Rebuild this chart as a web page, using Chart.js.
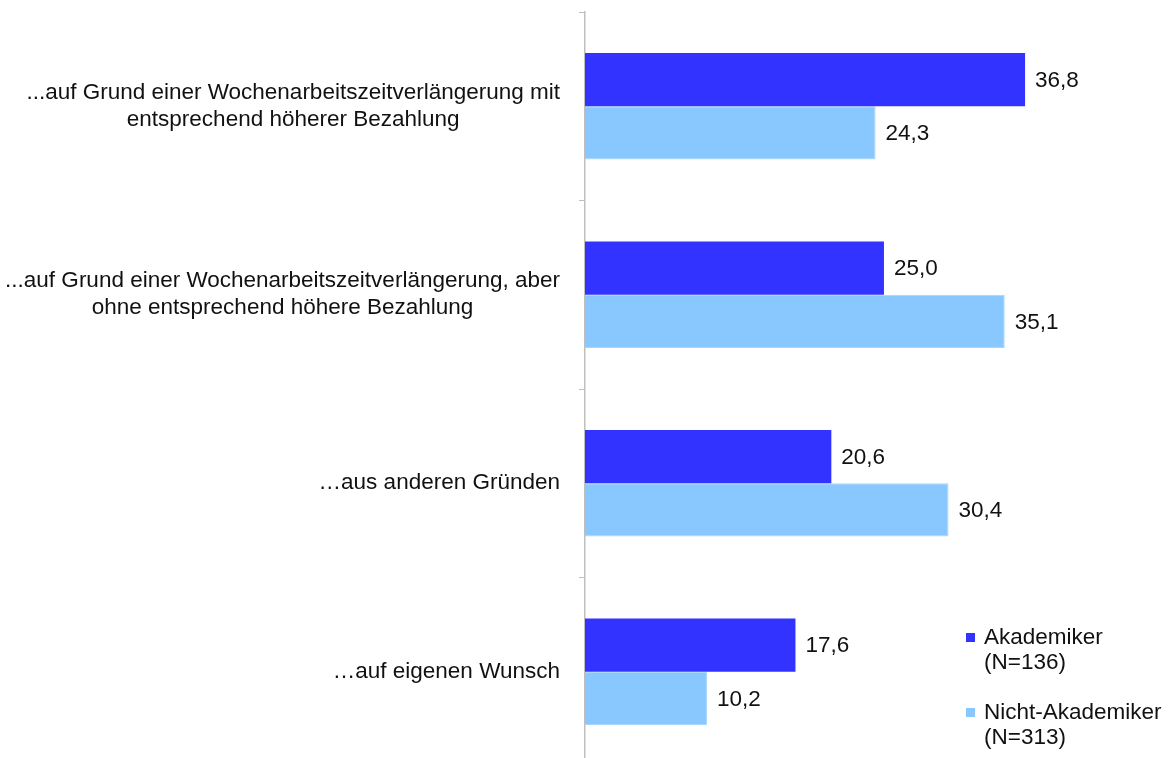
<!DOCTYPE html>
<html lang="de">
<head>
    <meta charset="UTF-8">
    <title>Wochenarbeitszeitverlängerung</title>
    <script src="https://cdn.jsdelivr.net/npm/chart.js"></script>
    <style>
        body { margin: 0; background: #fff; overflow: hidden; }
        #wrap { position: relative; width: 1169px; height: 758px; overflow: hidden; }
        .legend {
            position: absolute; left: 966px;
            font-family: "Liberation Sans", Arial, sans-serif;
            font-size: 22.5px; line-height: 25px; color: #111;
        }
        .legend .box { position: absolute; left: 0; top: 9px; width: 9px; height: 9px; }
        .legend .txt { margin-left: 18px; }
    </style>
</head>
<body>
    <div id="wrap">
        <canvas id="myChart" width="1169" height="766"></canvas>
        <div class="legend" style="top:624px">
            <span class="box" style="background:#3333ff"></span>
            <div class="txt">Akademiker<br>(N=136)</div>
        </div>
        <div class="legend" style="top:699px">
            <span class="box" style="background:#88c8ff"></span>
            <div class="txt">Nicht-Akademiker<br>(N=313)</div>
        </div>
    </div>

    <script>
        const categories = [
            ['...auf Grund einer Wochenarbeitszeitverlängerung mit', 'entsprechend höherer Bezahlung'],
            ['...auf Grund einer Wochenarbeitszeitverlängerung, aber', 'ohne entsprechend höhere Bezahlung'],
            ['…aus anderen Gründen'],
            ['…auf eigenen Wunsch']
        ];
        const akademiker = [36.8, 25.0, 20.6, 17.6];
        const nichtAkademiker = [24.3, 35.1, 30.4, 10.2];

        const FONT = '22.5px "Liberation Sans", Arial, sans-serif';

        // category labels (right-aligned block, lines centered) + value labels
        const labelPlugin = {
            id: 'labelPlugin',
            afterDraw(chart) {
                const ctx = chart.ctx;
                const yScale = chart.scales.y;
                ctx.save();
                ctx.font = FONT;
                ctx.fillStyle = '#111';
                ctx.textBaseline = 'middle';
                ctx.textAlign = 'center';
                const right = yScale.right - 25;
                categories.forEach((lines, i) => {
                    const y = yScale.getPixelForValue(i);
                    const w = Math.max(...lines.map(l => ctx.measureText(l).width));
                    lines.forEach((l, j) => {
                        ctx.fillText(l, right - w / 2, y + (j - (lines.length - 1) / 2) * 27);
                    });
                });
                ctx.textAlign = 'left';
                chart.data.datasets.forEach((ds, di) => {
                    chart.getDatasetMeta(di).data.forEach((bar, i) => {
                        ctx.fillText(ds.data[i].toFixed(1).replace('.', ','), bar.x + 10, bar.y + 1);
                    });
                });
                ctx.restore();
            }
        };

        const ctx = document.getElementById('myChart');
        new Chart(ctx, {
            type: 'bar',
            data: {
                labels: categories,
                datasets: [{
                    label: 'Akademiker (N=136)',
                    data: akademiker,
                    backgroundColor: '#3333ff',
                    categoryPercentage: 0.565,
                    barPercentage: 1.0
                }, {
                    label: 'Nicht-Akademiker (N=313)',
                    data: nichtAkademiker,
                    backgroundColor: '#88c8ff',
                    borderColor: '#a6d6ff',
                    borderWidth: 1,
                    categoryPercentage: 0.565,
                    barPercentage: 1.0
                }]
            },
            options: {
                indexAxis: 'y',
                responsive: false,
                animation: false,
                layout: { padding: { top: 12, right: 10, bottom: 0, left: 0 } },
                plugins: {
                    legend: { display: false },
                    tooltip: { enabled: false }
                },
                scales: {
                    x: { display: false, min: 0, max: 48 },
                    y: {
                        afterFit: scale => { scale.width = 585; },
                        ticks: { display: false },
                        grid: {
                            offset: true,
                            drawOnChartArea: false,
                            drawTicks: true,
                            tickLength: 6,
                            color: '#bfbfbf'
                        },
                        border: { display: true, color: '#bfbfbf', width: 1.5 }
                    }
                }
            },
            plugins: [labelPlugin]
        });
    </script>
</body>
</html>
